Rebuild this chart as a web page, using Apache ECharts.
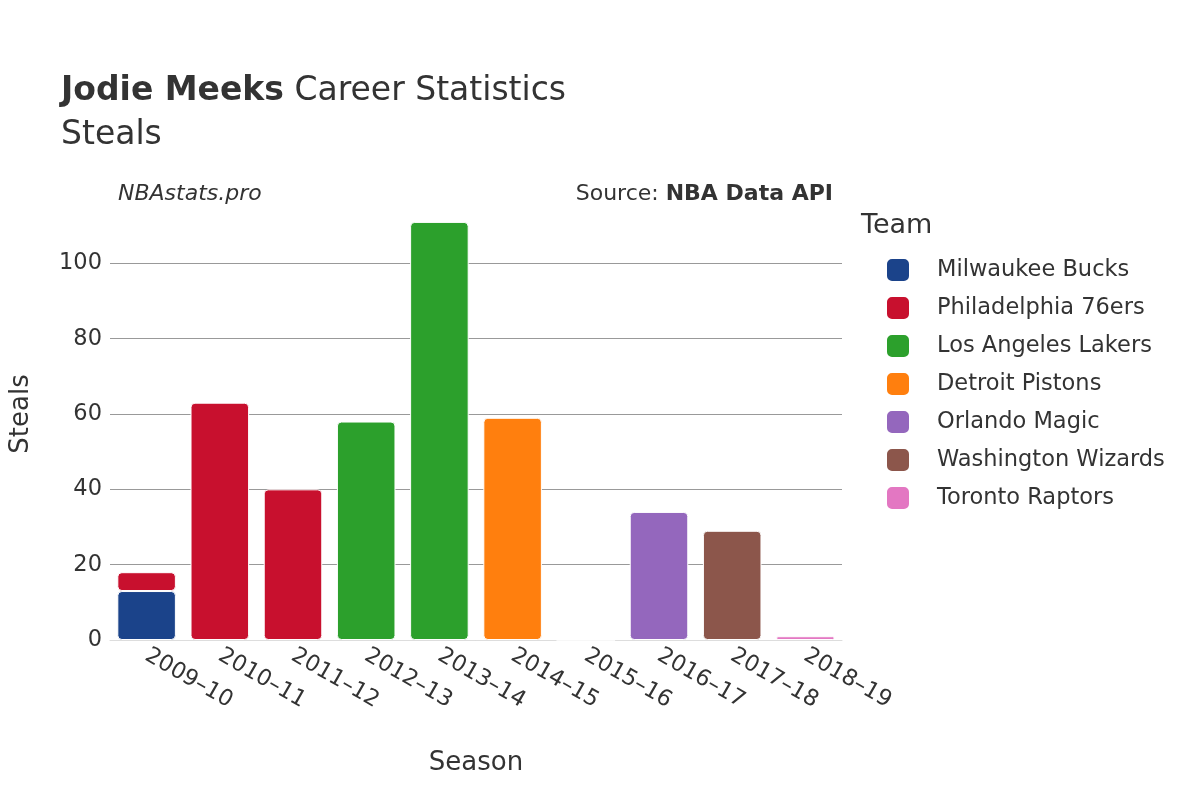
<!DOCTYPE html>
<html><head><meta charset="utf-8">
<script src="https://cdn.jsdelivr.net/npm/echarts@6/dist/echarts.min.js"></script>
<style>html,body{margin:0;background:#fff}#c{width:1200px;height:800px}</style>
</head><body><div id="c"></div>
<script>
const seasons = ['2009–10','2010–11','2011–12','2012–13','2013–14','2014–15','2015–16','2016–17','2017–18','2018–19'];
const teams = ['Milwaukee Bucks','Philadelphia 76ers','Los Angeles Lakers','Detroit Pistons','Orlando Magic','Washington Wizards','Toronto Raptors'];
const colors = ['#1b438a','#c8102e','#2ca02c','#ff7f0e','#9467bd','#8c564b','#e377c2'];
const bucks   = [13,null,null,null,null,null,null,null,null,null];
const sixers  = [5,63,40,null,null,null,null,null,null,null];
const lakers  = [null,null,null,58,111,null,null,null,null,null];
const pistons = [null,null,null,null,null,59,0,null,null,null];
const magic   = [null,null,null,null,null,null,null,34,null,null];
const wizards = [null,null,null,null,null,null,null,null,29,null];
const raptors = [null,null,null,null,null,null,null,null,null,1];
const values = [bucks,sixers,lakers,pistons,magic,wizards,raptors];
const F = 'DejaVu Sans';
const chart = echarts.init(document.getElementById('c'));
chart.setOption({
  animation:false,
  textStyle:{fontFamily:F},
  title:[
    {text:'{b|Jodie Meeks} Career Statistics\nSteals',left:56,top:64,textStyle:{fontSize:33,fontWeight:'normal',color:'#333',lineHeight:44,rich:{b:{fontSize:33,fontWeight:'bold',color:'#333',fontFamily:F}}}},
    {text:'NBAstats.pro',left:113,top:178,textStyle:{fontSize:22,fontStyle:'italic',fontWeight:'normal',color:'#333'}},
    {text:'Source: {b|NBA Data API}',right:362,top:178,textStyle:{fontSize:22,fontWeight:'normal',color:'#333',rich:{b:{fontSize:22,fontWeight:'bold',color:'#333',fontFamily:F}}}}
  ],
  legend:{orient:'vertical',left:880,top:252,itemWidth:24,itemHeight:24,itemGap:12,icon:'roundRect',
    data:teams,textStyle:{fontSize:22.5,color:'#333',padding:[0,0,0,22]}},
  graphic:[{type:'text',left:861,top:212,style:{text:'Team',fontSize:27,fill:'#333',fontFamily:F}}],
  grid:{left:108,right:358,top:188,bottom:160},
  xAxis:{type:'category',data:seasons,name:'Season',nameLocation:'middle',nameGap:110,
    nameTextStyle:{fontSize:26,color:'#333'},
    axisLine:{lineStyle:{color:'#ddd'}},axisTick:{show:false},
    axisLabel:{rotate:-30,fontSize:22.5,color:'#333',margin:14,align:'left'}},
  yAxis:{type:'value',min:0,max:120,interval:20,name:'Steals',nameLocation:'middle',nameGap:76,
    nameTextStyle:{fontSize:26,color:'#333'},
    axisLabel:{fontSize:22.5,color:'#333',showMaxLabel:false},
    splitLine:{showMaxLine:false,lineStyle:{color:'#999'}}},
  series:teams.map((t,i)=>({name:t,type:'bar',stack:'a',data:values[i],barCategoryGap:'20%',
    itemStyle:{color:colors[i],borderColor:'#fff',borderWidth:1,borderRadius:4}}))
});
</script></body></html>
